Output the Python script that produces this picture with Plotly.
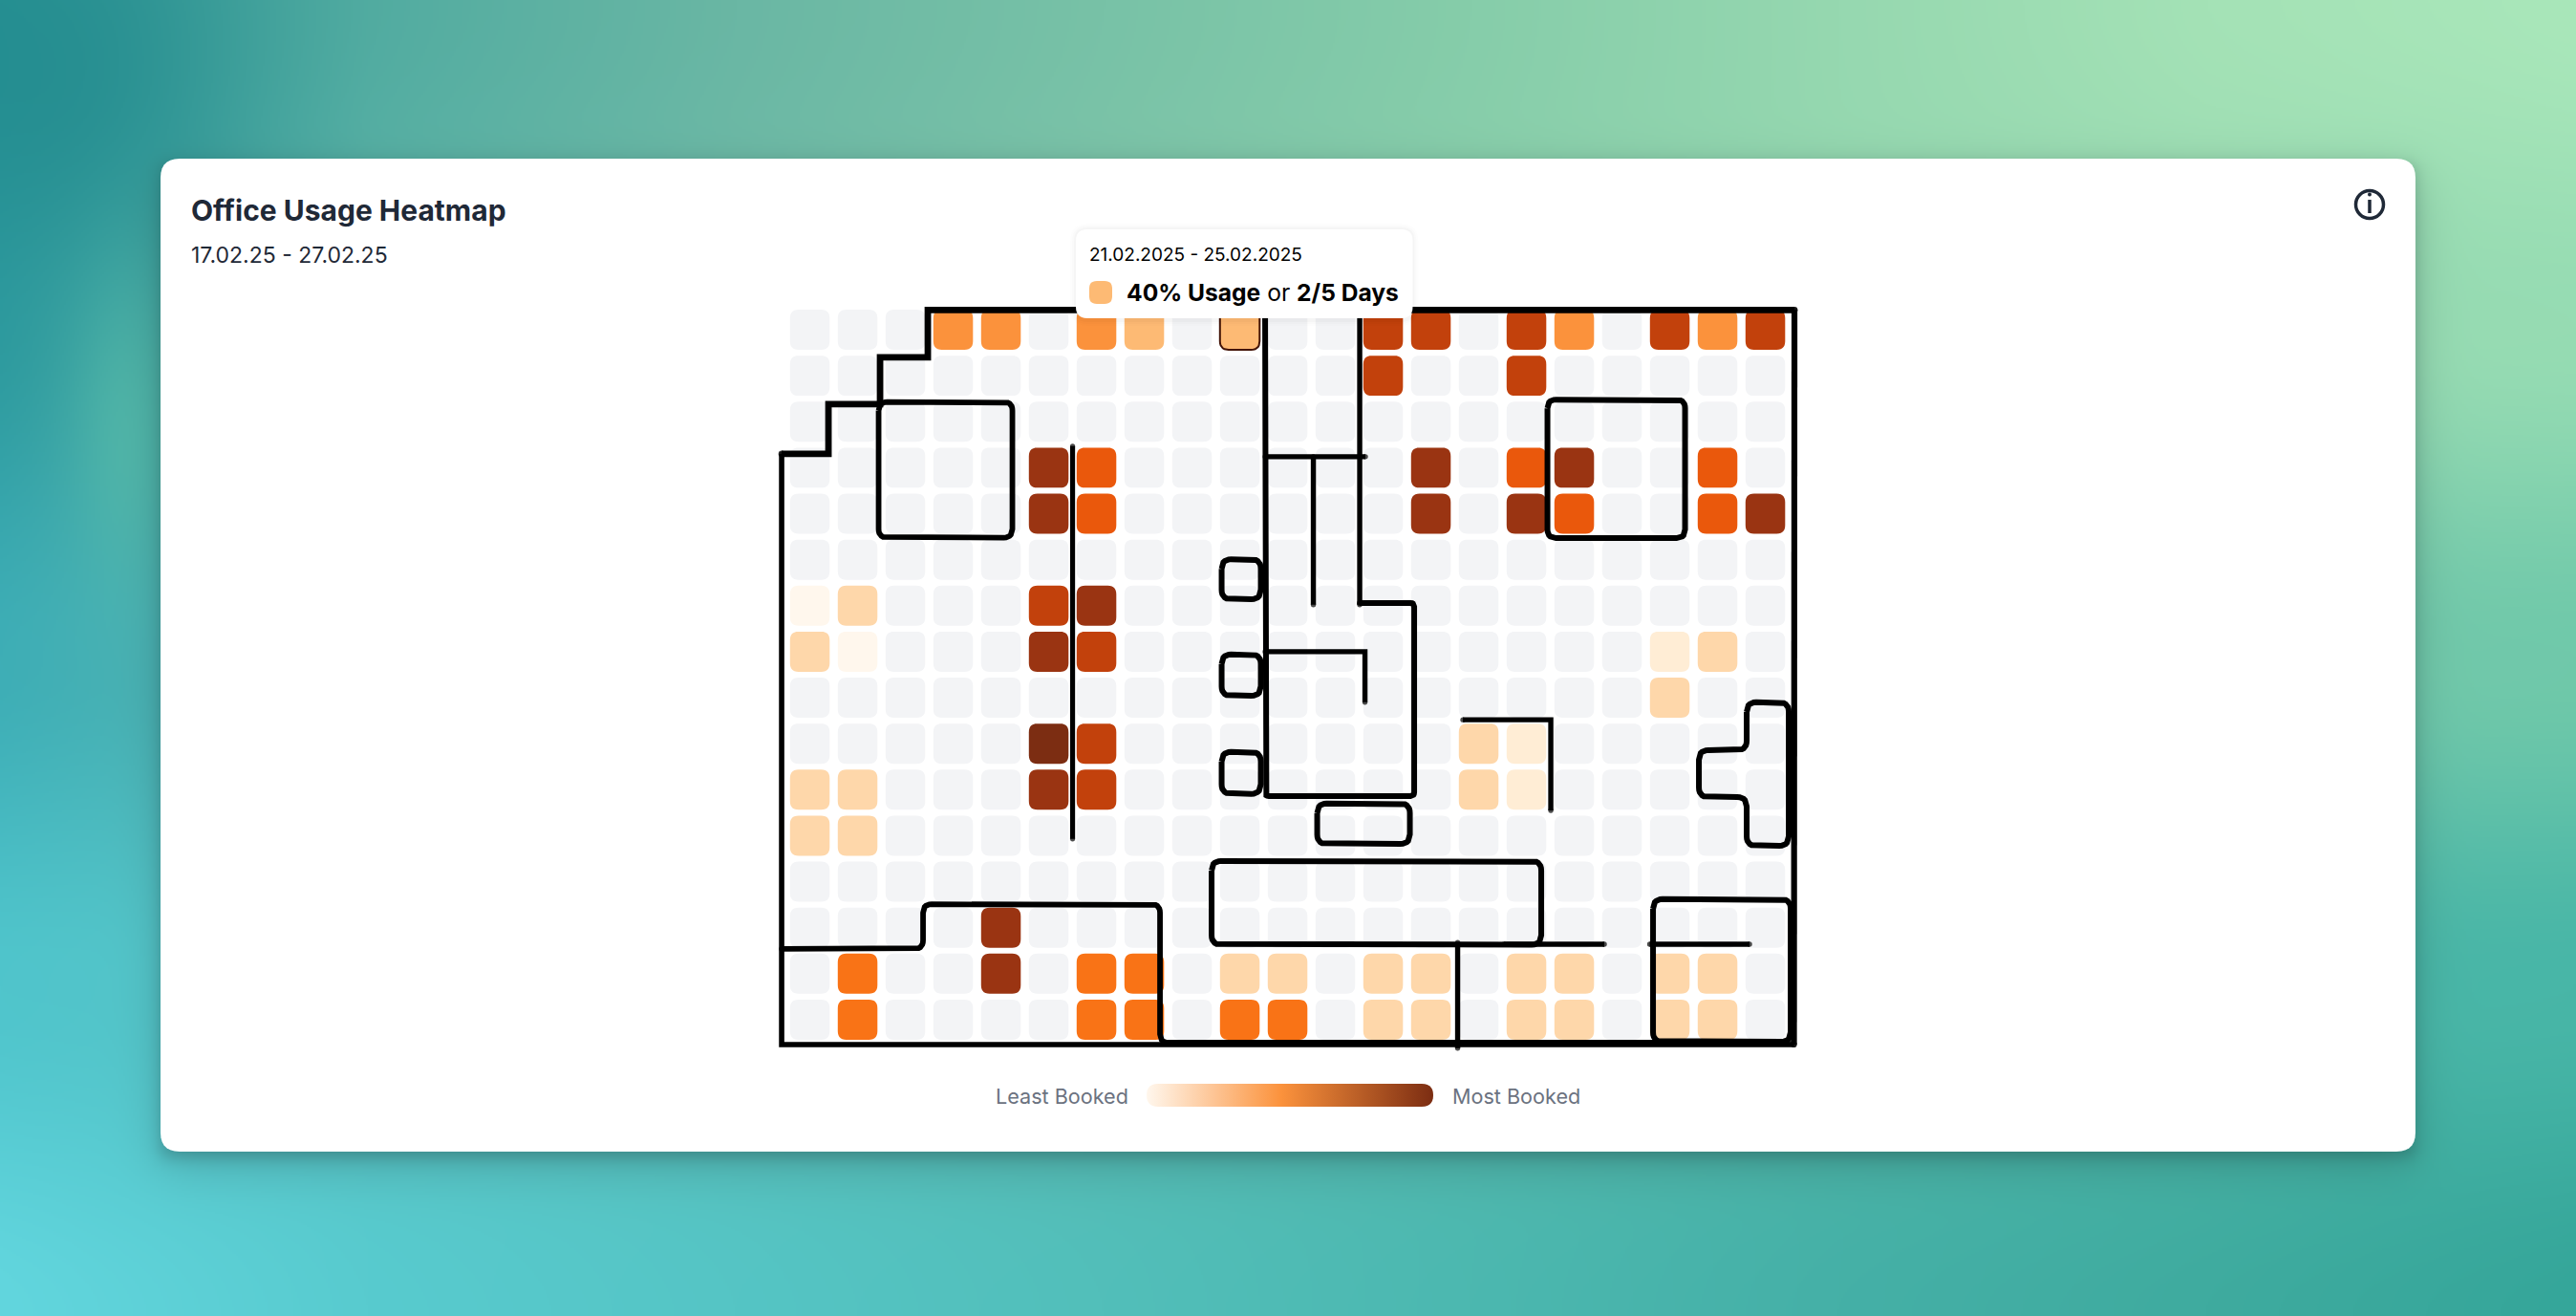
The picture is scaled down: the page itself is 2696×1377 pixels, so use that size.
import base64, math, struct, zlib
import numpy as np
import plotly.graph_objects as go

W, H = 2696, 1377

# ---------- data ----------
TITLE = "Office Usage Heatmap"
DATE_RANGE = "17.02.25 - 27.02.25"
TIP_DATES = "21.02.2025 - 25.02.2025"
TIP_TEXT = "<b>40% Usage</b> or <b>2/5 Days</b>"
LEGEND_LOW = "Least Booked"
LEGEND_HIGH = "Most Booked"

# usage percent per desk (row, column); 0 = no bookings
USAGE = [
    [0,0,0,50,50,0,50,40,0,40,0,0,80,80,0,80,50,0,80,50,80],
    [0,0,0,0,0,0,0,0,0,0,0,0,80,0,0,80,0,0,0,0,0],
    [0,0,0,0,0,0,0,0,0,0,0,0,0,0,0,0,0,0,0,0,0],
    [0,0,0,0,0,90,70,0,0,0,0,0,0,90,0,70,90,0,0,70,0],
    [0,0,0,0,0,90,70,0,0,0,0,0,0,90,0,90,70,0,0,70,90],
    [0,0,0,0,0,0,0,0,0,0,0,0,0,0,0,0,0,0,0,0,0],
    [5,20,0,0,0,80,90,0,0,0,0,0,0,0,0,0,0,0,0,0,0],
    [20,5,0,0,0,90,80,0,0,0,0,0,0,0,0,0,0,0,10,20,0],
    [0,0,0,0,0,0,0,0,0,0,0,0,0,0,0,0,0,0,20,0,0],
    [0,0,0,0,0,100,80,0,0,0,0,0,0,0,20,10,0,0,0,0,0],
    [20,20,0,0,0,90,80,0,0,0,0,0,0,0,20,10,0,0,0,0,0],
    [20,20,0,0,0,0,0,0,0,0,0,0,0,0,0,0,0,0,0,0,0],
    [0,0,0,0,0,0,0,0,0,0,0,0,0,0,0,0,0,0,0,0,0],
    [0,0,0,0,90,0,0,0,0,0,0,0,0,0,0,0,0,0,0,0,0],
    [0,60,0,0,90,0,60,60,0,20,20,0,20,20,0,20,20,0,20,20,0],
    [0,60,0,0,0,0,60,60,0,60,60,0,20,20,0,20,20,0,20,20,0],
]
LEVELS = [0, 5, 10, 20, 40, 50, 60, 70, 80, 90, 100]
LEVEL_COLORS = ["#f3f4f6", "#fff7ed", "#ffedd5", "#fed7aa", "#fdba74", "#fb923c",
                "#f97316", "#ea580c", "#c2410c", "#9a3412", "#7c2d12"]
SELECTED_DESK = (0, 9)

# floor plan, in desk units (column, row): (line width, corner radius, closed, points)
WALLS = [
    (6.8, 0, False, [(-0.59,2.70),(0.39,2.70),(0.39,1.62),(1.47,1.62),(1.47,0.60),(2.47,0.60),
                     (2.47,-0.43),(20.61,-0.43)]),
    (6.2, 0, False, [(20.61,-0.43),(20.60,15.54)]),
    (5.6, 0, False, [(20.60,15.54),(-0.59,15.54),(-0.59,2.70)]),
    (5.8, 9, False, [(-0.59,13.46),(2.37,13.46),(2.37,12.49),(7.33,12.49),(7.33,15.50),(20.5,15.50)]),
    (5.8, 9, True, [(1.44,1.57),(4.24,1.57),(4.24,4.52),(1.44,4.52)]),
    (5.2, 0, False, [(5.50,2.53),(5.50,11.07)]),
    (6.0, 4, False, [(9.53,-0.3),(9.53,10.14),(12.65,10.14),(12.65,5.94),(11.51,5.94)]),
    (5.4, 0, False, [(11.51,-0.3),(11.51,5.98)]),
    (5.4, 0, False, [(9.53,2.76),(11.63,2.76)]),
    (5.4, 0, False, [(10.54,2.76),(10.54,5.98)]),
    (6.0, 10, True, [(8.62,4.99),(9.44,4.99),(9.44,5.86),(8.62,5.86)]),
    (6.0, 10, True, [(8.62,7.06),(9.44,7.06),(9.44,7.96),(8.62,7.96)]),
    (6.0, 10, True, [(8.62,9.18),(9.44,9.18),(9.44,10.09),(8.62,10.09)]),
    (5.4, 0, False, [(9.53,7.00),(11.62,7.00),(11.62,8.10)]),
    (6.0, 10, True, [(10.62,10.30),(12.56,10.30),(12.56,11.18),(10.62,11.18)]),
    (6.0, 10, True, [(8.41,11.55),(15.31,11.55),(15.31,13.37),(8.41,13.37)]),
    (5.4, 0, False, [(14.53,13.36),(16.63,13.36)]),
    (5.4, 0, False, [(13.56,13.32),(13.56,15.62)]),
    (5.4, 0, False, [(17.58,13.36),(19.67,13.36)]),
    (6.0, 10, True, [(17.65,12.38),(20.53,12.38),(20.53,15.48),(17.65,15.48)]),
    (6.0, 10, True, [(19.61,8.10),(20.49,8.10),(20.49,11.22),(19.61,11.22),(19.61,10.16),
                     (18.61,10.16),(18.61,9.14),(19.61,9.14)]),
    (5.4, 0, False, [(13.67,8.48),(15.51,8.48),(15.51,10.45)]),
    (6.0, 9, True, [(15.44,1.52),(18.32,1.52),(18.32,4.53),(15.44,4.53)]),
]

# ---------- desk axis <-> page geometry ----------
X0, PX = 847.55, 50.0      # centre of column 0, pitch
Y0, PY = 345.0, 48.13      # centre of row 0, pitch
fx = lambda px: (px - X0) / PX
fy = lambda py: (py - Y0) / PY


def rounded(points, r, closed):
    """Round the corners of a polyline given in desk units."""
    p = [(a * PX, b * PY) for a, b in points]
    if closed:
        p = p + [p[0]]
    if r <= 0:
        return [a / PX for a, b in p], [b / PY for a, b in p]
    n = len(p)
    out = []
    idx = range(n - 1) if closed else range(n)
    for i in idx:
        cur = np.array(p[i])
        if not closed and i in (0, n - 1):
            out.append(tuple(cur))
            continue
        prv = np.array(p[(i - 1) % (n - 1)] if closed else p[i - 1])
        nxt = np.array(p[(i + 1) % (n - 1)] if closed else p[i + 1])
        u = (prv - cur) / np.linalg.norm(prv - cur)
        v = (nxt - cur) / np.linalg.norm(nxt - cur)
        for t in np.linspace(0, 1, 8):
            pt = (1 - t) ** 2 * (cur + u * r) + 2 * t * (1 - t) * cur + t ** 2 * (cur + v * r)
            out.append(tuple(pt))
    if closed:
        out.append(out[0])
    return [a / PX for a, b in out], [b / PY for a, b in out]


def box_px(x0, y0, x1, y1, r):
    """Rounded box given in page pixels, as desk-axis coordinates."""
    pts = [(fx(x0), fy(y0)), (fx(x1), fy(y0)), (fx(x1), fy(y1)), (fx(x0), fy(y1))]
    return rounded(pts, r, True)


def background_png():
    xs = [0, 385, 770, 1155, 1540, 1925, 2310, 2696]
    ys = [0, 344, 688, 1032, 1377]
    grid = [
        ["#2a9495", "#52aca1", "#6ab7a4", "#78c2a7", "#86cdaa", "#96d8b0", "#a4e2b6", "#a9e7ba"],
        ["#2f9ca0", "#5cb5a8", "#70bca8", "#80c6aa", "#8bd0ac", "#94d8b0", "#98dab2", "#96dcb3"],
        ["#3eaeb6", "#58b6b0", "#65bbae", "#70c0ac", "#76c4ac", "#78c7ab", "#74c8ab", "#70c9aa"],
        ["#50c5cc", "#58c4c4", "#58c0ba", "#58bbb2", "#54b9ac", "#50b8a8", "#4cb7a8", "#48b6a7"],
        ["#62d6de", "#58cbcf", "#55c5c5", "#52bfba", "#4cb8b0", "#45b0a7", "#3fab9f", "#35a69a"],
    ]
    rgb = np.array([[[int(c[i:i + 2], 16) for i in (1, 3, 5)] for c in row] for row in grid], float)
    w, h = W // 2, H // 2 + 1
    px = np.linspace(0, W, w)
    py = np.linspace(0, H, h)
    ix = np.interp(px, xs, np.arange(len(xs)))
    iy = np.interp(py, ys, np.arange(len(ys)))
    smooth = lambda t: t * t * (3 - 2 * t)
    x0 = np.minimum(ix.astype(int), len(xs) - 2)
    y0 = np.minimum(iy.astype(int), len(ys) - 2)
    tx = (ix - x0)[None, :, None]
    ty = smooth(iy - y0)[:, None, None]
    a = rgb[np.ix_(y0, x0)] * (1 - tx) + rgb[np.ix_(y0, x0 + 1)] * tx
    b = rgb[np.ix_(y0 + 1, x0)] * (1 - tx) + rgb[np.ix_(y0 + 1, x0 + 1)] * tx
    img = a * (1 - ty) + b * ty
    xx, yy = np.meshgrid(px, py)
    # soft darker and lighter patches seen at the top left
    for (cx, cy, sx, sy, col, amt) in [(70, 90, 170, 200, (30, 135, 140), 0.55),
                                       (135, 450, 60, 160, (90, 190, 170), 0.6)]:
        g = (amt * np.exp(-((xx - cx) / sx) ** 2 - ((yy - cy) / sy) ** 2))[..., None]
        img = img * (1 - g) + np.array(col, float) * g
    # card drop shadow: a wide soft layer and a tight one
    erf = np.vectorize(math.erf)
    for s, dy, alpha in [(36.0, 16, 0.22), (12.0, 6, 0.30)]:
        fxs = 0.5 * (erf((px - 168) / s) - erf((px - 2528) / s))
        fys = 0.5 * (erf((py - 166 - dy) / s) - erf((py - 1205 - dy) / s))
        sh = alpha * np.outer(fys, fxs)[..., None]
        img = img * (1 - sh) + np.array([25, 55, 55], float) * sh
    raw = np.clip(img, 0, 255).astype(np.uint8)
    data = b"".join(b"\x00" + raw[i].tobytes() for i in range(h))

    def chunk(tag, payload):
        c = tag + payload
        return struct.pack(">I", len(payload)) + c + struct.pack(">I", zlib.crc32(c))

    png = (b"\x89PNG\r\n\x1a\n" + chunk(b"IHDR", struct.pack(">IIBBBBB", w, h, 8, 2, 0, 0, 0))
           + chunk(b"IDAT", zlib.compress(data, 6)) + chunk(b"IEND", b""))
    return "data:image/png;base64," + base64.b64encode(png).decode()


fig = go.Figure()
no_hover = dict(hoverinfo="skip", showlegend=False)

# card
cx, cy = box_px(168, 166, 2528, 1205, 20)
fig.add_trace(go.Scatter(x=cx, y=cy, mode="none", fill="toself", fillcolor="#ffffff", **no_hover))

# desks: one filled trace per usage level
HALF_W, HALF_H = 0.415, 0.436
for level, color in zip(LEVELS, LEVEL_COLORS):
    xs_, ys_ = [], []
    for r, row in enumerate(USAGE):
        for c, v in enumerate(row):
            if v == level:
                a, b = rounded([(c - HALF_W, r - HALF_H), (c + HALF_W, r - HALF_H),
                                (c + HALF_W, r + HALF_H), (c - HALF_W, r + HALF_H)], 9, True)
                xs_ += a + [None]
                ys_ += b + [None]
    fig.add_trace(go.Scatter(x=xs_, y=ys_, mode="none", fill="toself", fillcolor=color,
                             name=f"{level}%", **no_hover))

# selected desk
sr, sc = SELECTED_DESK
a, b = rounded([(sc - HALF_W, sr - HALF_H), (sc + HALF_W, sr - HALF_H),
                (sc + HALF_W, sr + HALF_H), (sc - HALF_W, sr + HALF_H)], 9, True)
fig.add_trace(go.Scatter(x=a, y=b, mode="lines", line=dict(color="#431407", width=2), **no_hover))

# walls (open ones get round end caps)
for width, radius, closed, pts in WALLS:
    a, b = rounded(pts, radius, closed)
    sizes = [0] * len(a)
    if not closed:
        sizes[0] = sizes[-1] = width
    fig.add_trace(go.Scatter(x=a, y=b, mode="lines+markers", line=dict(color="#000000", width=width),
                             marker=dict(color="#000000", size=sizes, line=dict(width=0)), **no_hover))

# legend bar
a, b = box_px(1200, 1134, 1500, 1158, 12)
fig.add_trace(go.Scatter(x=a, y=b, mode="none", fill="toself",
                         fillgradient=dict(type="horizontal",
                                           colorscale=[[0, "#fff7ed"], [0.47, "#fb923c"], [1, "#7c2d12"]]),
                         **no_hover))

# tooltip
for grow, alpha in [(6, 0.008), (4, 0.012), (2, 0.02)]:
    a, b = box_px(1126 - grow, 240 - grow, 1478.5 + grow, 333 + grow + 2, 12 + grow)
    fig.add_trace(go.Scatter(x=a, y=b, mode="none", fill="toself", fillcolor=f"rgba(0,0,0,{alpha})", **no_hover))
a, b = box_px(1126, 240, 1478.5, 333, 12)
fig.add_trace(go.Scatter(x=a, y=b, mode="none", fill="toself", fillcolor="#ffffff", **no_hover))
a, b = box_px(1140, 294, 1164, 318, 8)
fig.add_trace(go.Scatter(x=a, y=b, mode="none", fill="toself", fillcolor="#fdba74", **no_hover))


def label(text, px, py, size, color, anchor="left", weight=None):
    fig.add_annotation(text=text, xref="paper", yref="paper", x=px / W, y=1 - py / H,
                       xanchor=anchor, yanchor="middle", showarrow=False,
                       font=dict(family="Inter", size=size, color=color, weight=weight))


label(TITLE, 198, 220.5, 30, "#1f2937", weight=700)
label(DATE_RANGE, 198, 267, 23, "#1f2937")
label(TIP_DATES, 1138, 266, 19, "#000000")
label(TIP_TEXT, 1177, 306, 24.6, "#000000")
label(LEGEND_LOW, 1040, 1147, 21.6, "#6b7280")
label(LEGEND_HIGH, 1518, 1147, 21.6, "#6b7280")

# info icon
icon = "#1f2937"
shapes = [
    dict(type="circle", xref="paper", yref="paper", x0=(2480 - 14.5) / W, x1=(2480 + 14.5) / W,
         y0=1 - (214 + 14.5) / H, y1=1 - (214 - 14.5) / H, line=dict(color=icon, width=3.5)),
    dict(type="line", xref="paper", yref="paper", x0=2480 / W, x1=2480 / W,
         y0=1 - 223 / H, y1=1 - 209 / H, line=dict(color=icon, width=3.5)),
    dict(type="circle", xref="paper", yref="paper", x0=2478 / W, x1=2482 / W,
         y0=1 - 205.5 / H, y1=1 - 201.5 / H, fillcolor=icon, line=dict(width=0)),
]

fig.update_layout(
    width=W, height=H, autosize=False, margin=dict(l=0, r=0, t=0, b=0, pad=0),
    showlegend=False, hovermode=False, paper_bgcolor="#5cb8a8", plot_bgcolor="rgba(0,0,0,0)",
    xaxis=dict(visible=False, range=[fx(0), fx(W)], fixedrange=True),
    yaxis=dict(visible=False, range=[fy(H), fy(0)], fixedrange=True),
    shapes=shapes,
    images=[dict(source=background_png(), xref="paper", yref="paper", x=0, y=1, sizex=1, sizey=1,
                 sizing="stretch", xanchor="left", yanchor="top", layer="below")],
)

fig.write_html("out.html", config=dict(displayModeBar=False),
               post_script="document.body.style.margin='0';document.documentElement.style.overflow='hidden';")
